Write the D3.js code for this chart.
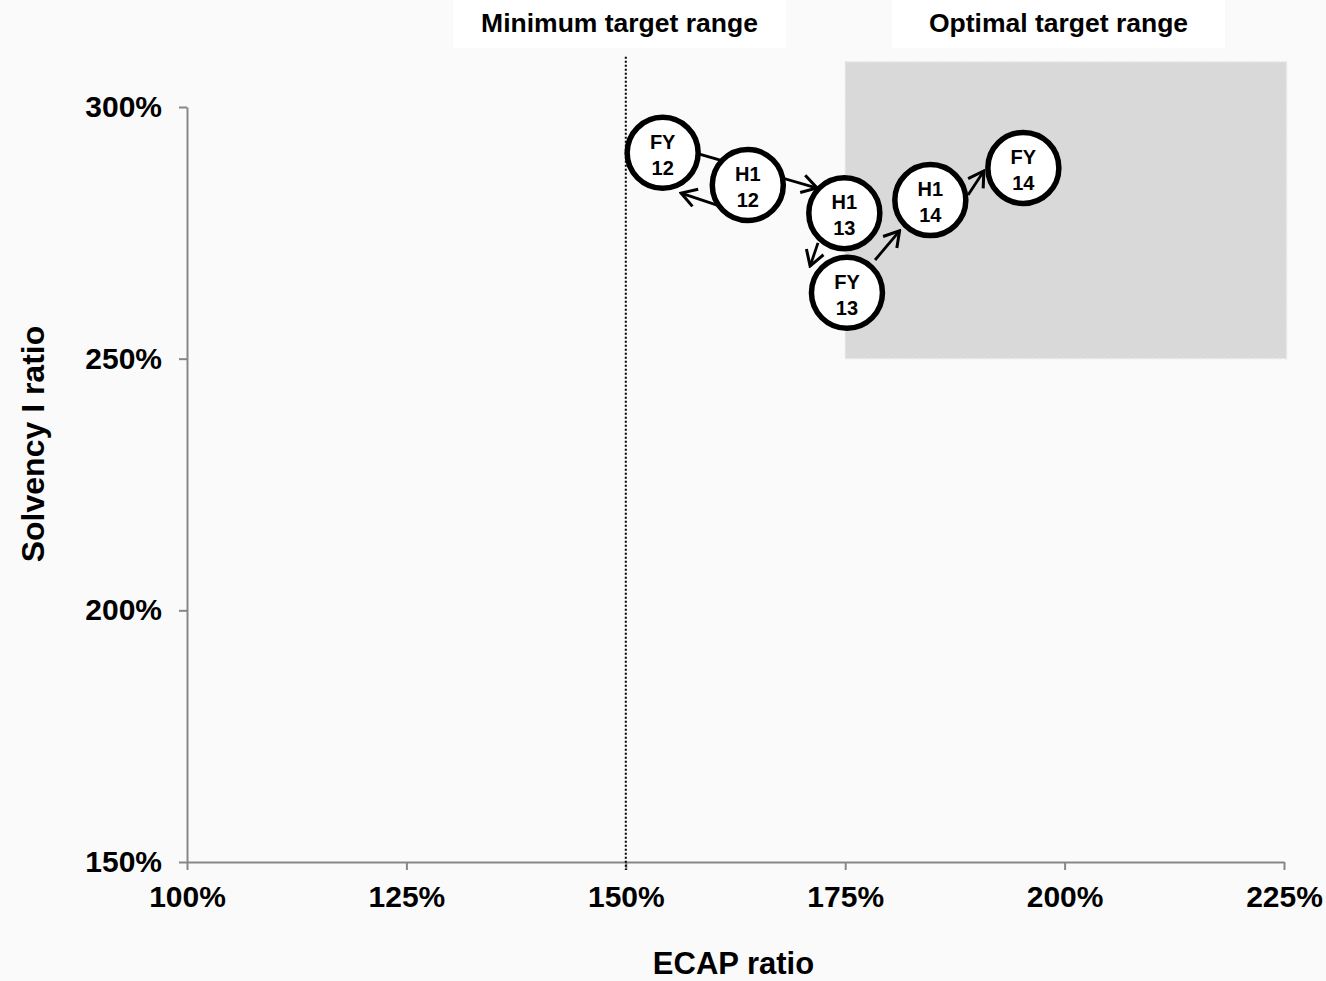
<!DOCTYPE html>
<html>
<head>
<meta charset="utf-8">
<script src="https://cdn.jsdelivr.net/npm/d3@7"></script>
<style>
  html, body { margin: 0; padding: 0; background: #fafafa; }
  svg { display: block; }
  text { font-family: "Liberation Sans", Arial, Helvetica, sans-serif; font-weight: bold; fill: #000; }
</style>
</head>
<body>
<svg id="chart" width="1326" height="981"></svg>
<script>
// ---- Data ----
const periodTop    = ["FY", "H1", "H1", "FY", "H1", "FY"];
const periodBottom = ["12", "12", "13", "13", "14", "14"];
const ecapRatio     = [154.2, 163.9, 174.9, 175.2, 184.7, 195.3];
const solvencyRatio = [290.9, 284.5, 278.9, 263.1, 281.5, 287.9];

// arrows (data coordinates, % values)
const arrowFromX = [160.4, 157.3, 171.9, 178.4, 189.0];
const arrowFromY = [280.5, 291.2, 273.0, 269.6, 282.5];
const arrowToX   = [156.3, 171.8, 171.0, 181.2, 190.8];
const arrowToY   = [282.9, 283.9, 268.4, 275.4, 287.3];

const xTicks = [100, 125, 150, 175, 200, 225];
const yTicks = [150, 200, 250, 300];

// target ranges
const minTargetEcap = 150;
const optimalEcap = [175, 225.3];
const optimalSolvency = [250, 309];
const rangeTop = 310;

const xTitle = "ECAP ratio";
const yTitle = "Solvency I ratio";
const headerMin = "Minimum target range";
const headerOpt = "Optimal target range";

// ---- Layout ----
const svg = d3.select("#chart");
const W = 1326, H = 981;
svg.append("rect").attr("width", W).attr("height", H).attr("fill", "#fafafa");

const x = d3.scaleLinear().domain([100, 225]).range([187, 1284]);
const y = d3.scaleLinear().domain([150, 300]).range([862, 107]);

// header boxes
const headers = [
  { text: headerMin, x0: 453, x1: 786 },
  { text: headerOpt, x0: 892, x1: 1225 }
];
headers.forEach(h => {
  svg.append("rect").attr("x", h.x0).attr("y", 0).attr("width", h.x1 - h.x0).attr("height", 48).attr("fill", "#ffffff");
  svg.append("text").attr("x", (h.x0 + h.x1) / 2).attr("y", 32).attr("text-anchor", "middle")
    .style("font-size", "26.5px").text(h.text);
});

// optimal range rect
svg.append("rect")
  .attr("x", x(optimalEcap[0])).attr("y", y(optimalSolvency[1]))
  .attr("width", x(optimalEcap[1]) - x(optimalEcap[0]))
  .attr("height", y(optimalSolvency[0]) - y(optimalSolvency[1]))
  .attr("fill", "#d9d9d9").attr("stroke", "#e9e9e9").attr("stroke-width", 1.5)
  .attr("stroke-dasharray", "3,3");

// axes
const axisColor = "#878787";
const yAxis = svg.append("g").attr("transform", `translate(${x(100)},0)`)
  .call(d3.axisLeft(y).tickValues(yTicks).tickSize(8).tickSizeOuter(0).tickPadding(17).tickFormat(d => d + "%"));
const xAxis = svg.append("g").attr("transform", `translate(0,${y(150)})`)
  .call(d3.axisBottom(x).tickValues(xTicks).tickSize(8).tickSizeOuter(0).tickPadding(16).tickFormat(d => d + "%"));
[xAxis, yAxis].forEach(g => {
  g.select(".domain").attr("stroke", axisColor).attr("stroke-width", 2);
  g.selectAll(".tick line").attr("stroke", axisColor).attr("stroke-width", 2);
  g.selectAll(".tick text").style("font-size", "30px").style("font-family", "'Liberation Sans', Arial, sans-serif")
    .style("font-weight", "bold").attr("fill", "#000");
});

// minimum target dotted line
svg.append("line")
  .attr("x1", x(minTargetEcap)).attr("x2", x(minTargetEcap))
  .attr("y1", y(rangeTop)).attr("y2", y(150) + 8)
  .attr("stroke", "#000").attr("stroke-width", 2).attr("stroke-dasharray", "2,2");

// axis titles
svg.append("text").attr("x", (x(100) + x(225)) / 2 - 2).attr("y", 974).attr("text-anchor", "middle")
  .style("font-size", "31px").text(xTitle);
svg.append("text").attr("transform", `translate(44,444) rotate(-90)`).attr("text-anchor", "middle")
  .style("font-size", "32px").text(yTitle);

// arrow marker
const defs = svg.append("defs");
defs.append("marker").attr("id", "arrowhead").attr("markerUnits", "userSpaceOnUse")
  .attr("viewBox", "-18 -12 20 24").attr("refX", 0).attr("refY", 0)
  .attr("markerWidth", 20).attr("markerHeight", 24).attr("orient", "auto")
  .append("path").attr("d", "M-15,-9 L0,0 L-15,9").attr("fill", "none")
  .attr("stroke", "#000").attr("stroke-width", 3).attr("stroke-linejoin", "miter");

const arrows = arrowFromX.map((v, i) => ({ x1: v, y1: arrowFromY[i], x2: arrowToX[i], y2: arrowToY[i] }));
svg.append("g").selectAll("line").data(arrows).join("line")
  .attr("x1", d => x(d.x1)).attr("y1", d => y(d.y1))
  .attr("x2", d => x(d.x2)).attr("y2", d => y(d.y2))
  .attr("stroke", "#000").attr("stroke-width", 2.8)
  .attr("marker-end", "url(#arrowhead)");

// bubbles
const points = ecapRatio.map((v, i) => ({ x: v, y: solvencyRatio[i], t: periodTop[i], b: periodBottom[i] }));
const bub = svg.append("g").selectAll("g").data(points).join("g")
  .attr("transform", d => `translate(${x(d.x)},${y(d.y)})`);
bub.append("circle").attr("r", 35.5).attr("fill", "#fff").attr("stroke", "#000").attr("stroke-width", 5.5);
bub.append("text").attr("text-anchor", "middle").attr("y", -4).style("font-size", "20px").text(d => d.t);
bub.append("text").attr("text-anchor", "middle").attr("y", 22).style("font-size", "20px").text(d => d.b);
</script>
</body>
</html>
